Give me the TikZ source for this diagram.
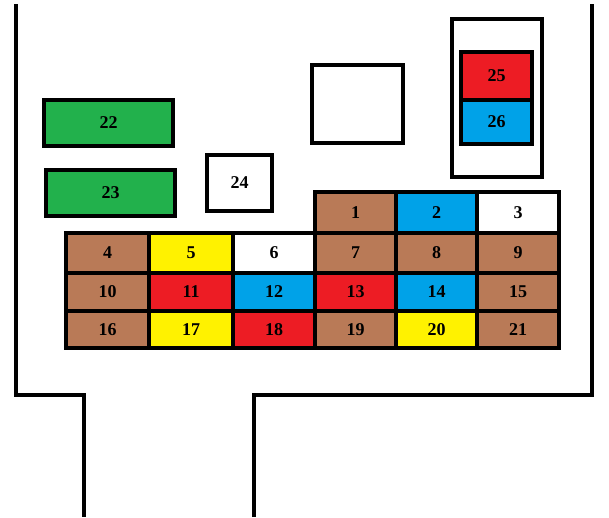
\documentclass[tikz,border=0pt]{standalone}
\usepackage{fontspec}
\setmainfont{Liberation Serif}
\definecolor{fbrown}{RGB}{185,122,87}
\definecolor{fyellow}{RGB}{255,242,0}
\definecolor{fred}{RGB}{237,28,36}
\definecolor{fblue}{RGB}{0,162,232}
\definecolor{fgreen}{RGB}{34,177,76}
\newcommand\fcell[7]{%
  \node[cellbox, fill=#6, minimum width={(#4-#2)*1pt}, minimum height={(#5-#3)*1pt}]
    (#1) at ({(#2+#4)/2},{(#3+#5)/2}) {#7};}
\tikzset{
  cellbox/.style={draw=black, line width=4.7pt, rectangle, inner sep=0pt,
    font=\fontsize{18}{18}\selectfont\bfseries, text=black},
  outline/.style={draw=black, line width=4.7pt, line join=miter}
}
\begin{document}
\begin{tikzpicture}[x=1pt,y=-1pt]
\useasboundingbox (0,0) rectangle (609,517);
\fill[white] (0,0) rectangle (609,517);
% housing outline
\coordinate (lt) at (16,4);
\coordinate (lc) at (16,395);
\coordinate (lk) at (84,395);
\coordinate (lb) at (84,517);
\coordinate (rb) at (254,517);
\coordinate (rk) at (254,395);
\coordinate (rc) at (592,395);
\coordinate (rt) at (592,4);
\draw[outline] (lt) -- (lc) -- (lk) -- (lb);
\draw[outline] (rb) -- (rk) -- (rc) -- (rt);
% separate parts
\fcell{f22}{44}{100}{173}{146}{fgreen}{22}
\fcell{f23}{46}{170}{175}{216}{fgreen}{23}
\fcell{f24}{207}{155}{272}{211}{white}{24}
\fcell{emptybox}{312}{65}{403}{143}{white}{}
\fcell{holder}{452}{19}{542}{177}{white}{}
\fcell{f25}{461}{52}{532}{100}{fred}{25}
\fcell{f26}{461}{100}{532}{144}{fblue}{26}
% grid row 0
\fcell{f1}{315}{192}{396}{233}{fbrown}{1}
\fcell{f2}{396}{192}{477}{233}{fblue}{2}
\fcell{f3}{477}{192}{559}{233}{white}{3}
% row 1
\fcell{f4}{66}{233}{149}{273}{fbrown}{4}
\fcell{f5}{149}{233}{233}{273}{fyellow}{5}
\fcell{f6}{233}{233}{315}{273}{white}{6}
\fcell{f7}{315}{233}{396}{273}{fbrown}{7}
\fcell{f8}{396}{233}{477}{273}{fbrown}{8}
\fcell{f9}{477}{233}{559}{273}{fbrown}{9}
% row 2
\fcell{f10}{66}{273}{149}{311}{fbrown}{10}
\fcell{f11}{149}{273}{233}{311}{fred}{11}
\fcell{f12}{233}{273}{315}{311}{fblue}{12}
\fcell{f13}{315}{273}{396}{311}{fred}{13}
\fcell{f14}{396}{273}{477}{311}{fblue}{14}
\fcell{f15}{477}{273}{559}{311}{fbrown}{15}
% row 3
\fcell{f16}{66}{311}{149}{348}{fbrown}{16}
\fcell{f17}{149}{311}{233}{348}{fyellow}{17}
\fcell{f18}{233}{311}{315}{348}{fred}{18}
\fcell{f19}{315}{311}{396}{348}{fbrown}{19}
\fcell{f20}{396}{311}{477}{348}{fyellow}{20}
\fcell{f21}{477}{311}{559}{348}{fbrown}{21}
\end{tikzpicture}
\end{document}
